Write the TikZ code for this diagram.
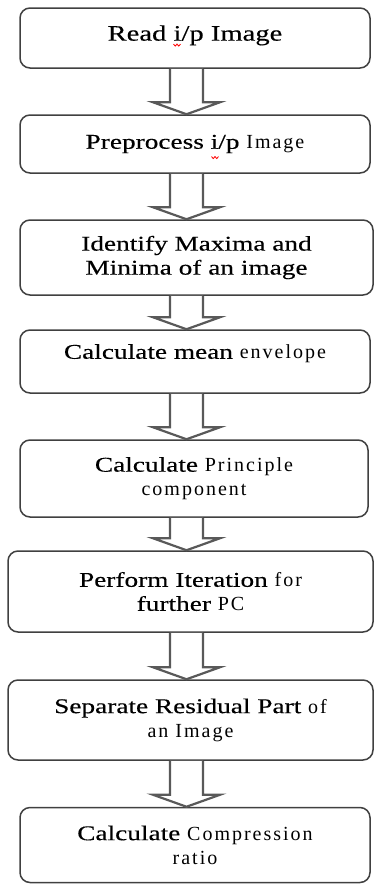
\documentclass[tikz,border=0pt]{standalone}
\usepackage{fontspec}
\setmainfont{Liberation Serif}[FakeStretch=1.3, FakeBold=0.3]
\newfontfamily\thinfont{Liberation Serif}[LetterSpace=10]
\usetikzlibrary{calc}
\newcommand\sm{\thinfont\fontsize{20}{24}\selectfont}
\newcommand\flowarrow[2]{%
  \path (ax |- #2.north) coordinate (tip);
  \draw[blockarrow]
    ($(ax |- #1.south)+(-16.5,0)$) -- ($(tip)+(-16.5,-12)$) -- ($(tip)+(-33.5,-12)$)
    -- (tip) -- ($(tip)+(33.5,-12)$) -- ($(tip)+(16.5,-12)$) -- ($(ax |- #1.south)+(16.5,0)$);
}
% spell-check style red wave
\newcommand\redwave[1]{%
  \draw[red, line width=0.8pt, line join=round] ($(#1)+(-3.5,0)$) -- ++(1.75,2.2) -- ++(1.75,-2.2) -- ++(1.75,2.2) -- ++(1.75,-2.2);
}
\begin{document}
\begin{tikzpicture}[x=1pt,y=-1pt,
  stepbox/.style={draw=black!75, line width=1.5pt, rounded corners=10pt, fill=white,
    inner sep=0pt, align=center, font=\fontsize{21}{24}\selectfont},
  blockarrow/.style={draw=black!65, line width=2.2pt, line join=miter, fill=white}]
\useasboundingbox (0,0) rectangle (374,884);
\coordinate (ax) at (186.5,0);
\node[stepbox, minimum width=350pt, minimum height=60pt, text depth=10pt, font=\fontsize{22}{24}\selectfont] (b1) at (195,38) {Read i/p Image};
\node[stepbox, minimum width=350pt, minimum height=58pt] (b2) at (195,144) {Preprocess i/p {\sm Image}};
\node[stepbox, minimum width=353pt, minimum height=75pt] (b3) at (196.5,257.5) {Identify Maxima and\\Minima of an image};
\node[stepbox, minimum width=350pt, minimum height=63pt, text depth=20pt] (b4) at (195,361.5) {Calculate mean {\sm envelope}};
\node[stepbox, minimum width=348pt, minimum height=77pt] (b5) at (194,478.5) {Calculate {\sm Principle}\\{\sm component}};
\node[stepbox, minimum width=365pt, minimum height=81pt] (b6) at (190.5,591.5) {Perform Iteration {\sm for}\\further {\sm PC}};
\node[stepbox, minimum width=365pt, minimum height=80pt] (b7) at (190.5,720) {Separate Residual Part {\sm of}\\{\sm an Image}};
\node[stepbox, minimum width=350pt, minimum height=75pt] (b8) at (195,845) {Calculate {\sm Compression}\\{\sm ratio}};
\coordinate (w1) at ($(b1.center)+(-18,6)$);
\coordinate (w2) at ($(b2.center)+(20,12.5)$);
\redwave{w1}
\redwave{w2}
\flowarrow{b1}{b2}
\flowarrow{b2}{b3}
\flowarrow{b3}{b4}
\flowarrow{b4}{b5}
\flowarrow{b5}{b6}
\flowarrow{b6}{b7}
\flowarrow{b7}{b8}
\end{tikzpicture}
\end{document}
